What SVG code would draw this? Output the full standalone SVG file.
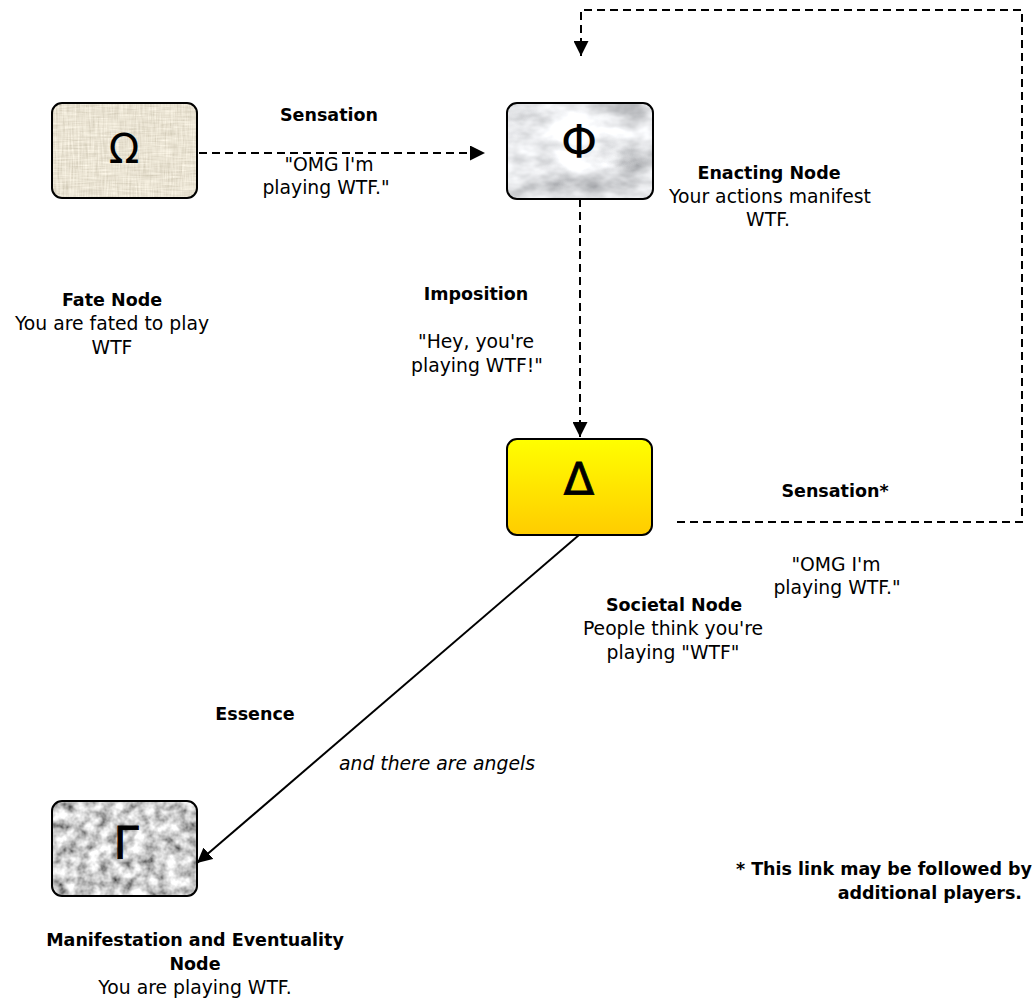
<svg xmlns="http://www.w3.org/2000/svg" width="1034" height="1003" viewBox="0 0 1034 1003">
<style>
  text { font-family: "DejaVu Sans", "Liberation Sans", sans-serif; fill: #000; }
  .b { font-weight: bold; font-size: 17.5px; }
  .r { font-size: 18.8px; }
  .i { font-size: 18.8px; font-style: italic; }
  .sym { font-size: 40px; text-anchor: middle; }
  .c { text-anchor: middle; }
  .e { text-anchor: end; }
  .box { stroke: #000; stroke-width: 2; fill: none; }
  .edge { fill: none; stroke: #000; stroke-width: 2; }
  .dash { stroke-dasharray: 8 5; }
</style>
<defs>
  <marker id="arr" viewBox="0 0 10 10" refX="10" refY="5" markerWidth="7.5" markerHeight="7.5" markerUnits="strokeWidth" orient="auto">
    <path d="M0,0 L10,5 L0,10 Z" fill="#000"/>
  </marker>
  <linearGradient id="yel" x1="0" y1="0" x2="0" y2="1">
    <stop offset="0" stop-color="#ffff00"/>
    <stop offset="1" stop-color="#ffcc00"/>
  </linearGradient>
  <filter id="linen" x="0" y="0" width="1" height="1">
    <feTurbulence type="fractalNoise" baseFrequency="0.05 0.6" numOctaves="2" seed="3" result="n1"/>
    <feTurbulence type="fractalNoise" baseFrequency="0.6 0.05" numOctaves="2" seed="7" result="n2"/>
    <feComposite in="n1" in2="n2" operator="arithmetic" k2="0.5" k3="0.5" result="n"/>
    <feColorMatrix in="n" type="matrix" values="0.6 0 0 0 0.52  0.6 0 0 0 0.47  0.6 0 0 0 0.35  0 0 0 0 1" result="c"/>
    <feComposite in="c" in2="SourceAlpha" operator="in"/>
  </filter>
  <filter id="marble" x="0" y="0" width="1" height="1">
    <feTurbulence type="fractalNoise" baseFrequency="0.02 0.035" numOctaves="4" seed="11" result="n"/>
    <feColorMatrix in="n" type="matrix" values="1.3 0 0 0 0.14  1.3 0 0 0 0.15  1.3 0 0 0 0.17  0 0 0 0 1" result="c"/>
    <feComposite in="c" in2="SourceAlpha" operator="in"/>
  </filter>
  <filter id="granite" x="0" y="0" width="1" height="1">
    <feTurbulence type="fractalNoise" baseFrequency="0.09" numOctaves="3" seed="5" result="n"/>
    <feColorMatrix in="n" type="matrix" values="1.6 0 0 0 -0.17  1.6 0 0 0 -0.17  1.6 0 0 0 -0.17  0 0 0 0 1" result="c"/>
    <feComposite in="c" in2="SourceAlpha" operator="in"/>
  </filter>
</defs>
<rect width="1034" height="1003" fill="#fff"/>

<g id="connectors">
  <line class="edge dash" x1="199" y1="153" x2="485" y2="153" marker-end="url(#arr)"/>
  <line class="edge dash" x1="580" y1="199" x2="580" y2="437" marker-end="url(#arr)"/>
  <path class="edge dash" d="M677,522 H1022 V10 H581 V56" marker-end="url(#arr)"/>
  <line class="edge" x1="579" y1="535" x2="197" y2="863" marker-end="url(#arr)"/>
  <text class="b c" x="329" y="121">Sensation</text>
  <text class="r c" x="329" y="171">"OMG I'm</text>
  <text class="r c" x="326" y="194">playing WTF."</text>
  <text class="b c" x="476" y="300">Imposition</text>
  <text class="r c" x="476" y="348">"Hey, you're</text>
  <text class="r c" x="477" y="372">playing WTF!"</text>
  <text class="b c" x="835" y="497">Sensation*</text>
  <text class="r c" x="836" y="571">"OMG I'm</text>
  <text class="r c" x="837" y="594">playing WTF."</text>
  <text class="b c" x="255" y="720">Essence</text>
  <text class="i c" x="437" y="770">and there are angels</text>
</g>

<g id="fate-node">
  <rect x="52" y="103" width="145" height="95" rx="10" fill="#ddd2b8" filter="url(#linen)"/>
  <rect class="box" x="52" y="103" width="145" height="95" rx="10"/>
  <text class="sym" x="124" y="163">Ω</text>
  <text class="b c" x="112" y="306">Fate Node</text>
  <text class="r c" x="112" y="330">You are fated to play</text>
  <text class="r c" x="112" y="354">WTF</text>
</g>

<g id="enacting-node">
  <rect x="507" y="103" width="146" height="96" rx="10" fill="#d8d8d8" filter="url(#marble)"/>
  <rect class="box" x="507" y="103" width="146" height="96" rx="10"/>
  <text class="sym" x="579" y="158" style="font-size:46px">Φ</text>
  <text class="b c" x="769" y="179">Enacting Node</text>
  <text class="r c" x="770" y="203">Your actions manifest</text>
  <text class="r c" x="768" y="226">WTF.</text>
</g>

<g id="societal-node">
  <rect x="507" y="439" width="145" height="96" rx="10" fill="url(#yel)"/>
  <rect class="box" x="507" y="439" width="145" height="96" rx="10"/>
  <text class="sym" x="579" y="495" style="font-size:45px" stroke="#000" stroke-width="0.8">Δ</text>
  <text class="b c" x="674" y="611">Societal Node</text>
  <text class="r c" x="673" y="635">People think you're</text>
  <text class="r c" x="673" y="659">playing "WTF"</text>
</g>

<g id="manifestation-node">
  <rect x="52" y="801" width="145" height="95" rx="10" fill="#a0a0a0" filter="url(#granite)"/>
  <rect class="box" x="52" y="801" width="145" height="95" rx="10"/>
  <text class="sym" x="126" y="859" style="font-size:45px" stroke="#000" stroke-width="0.8">Γ</text>
  <text class="b c" x="195" y="946">Manifestation and Eventuality</text>
  <text class="b c" x="195" y="970">Node</text>
  <text class="r c" x="195" y="994">You are playing WTF.</text>
</g>

<g id="footnote">
  <text class="b e" x="1032" y="875">* This link may be followed by</text>
  <text class="b e" x="1022" y="899">additional players.</text>
</g>
</svg>
